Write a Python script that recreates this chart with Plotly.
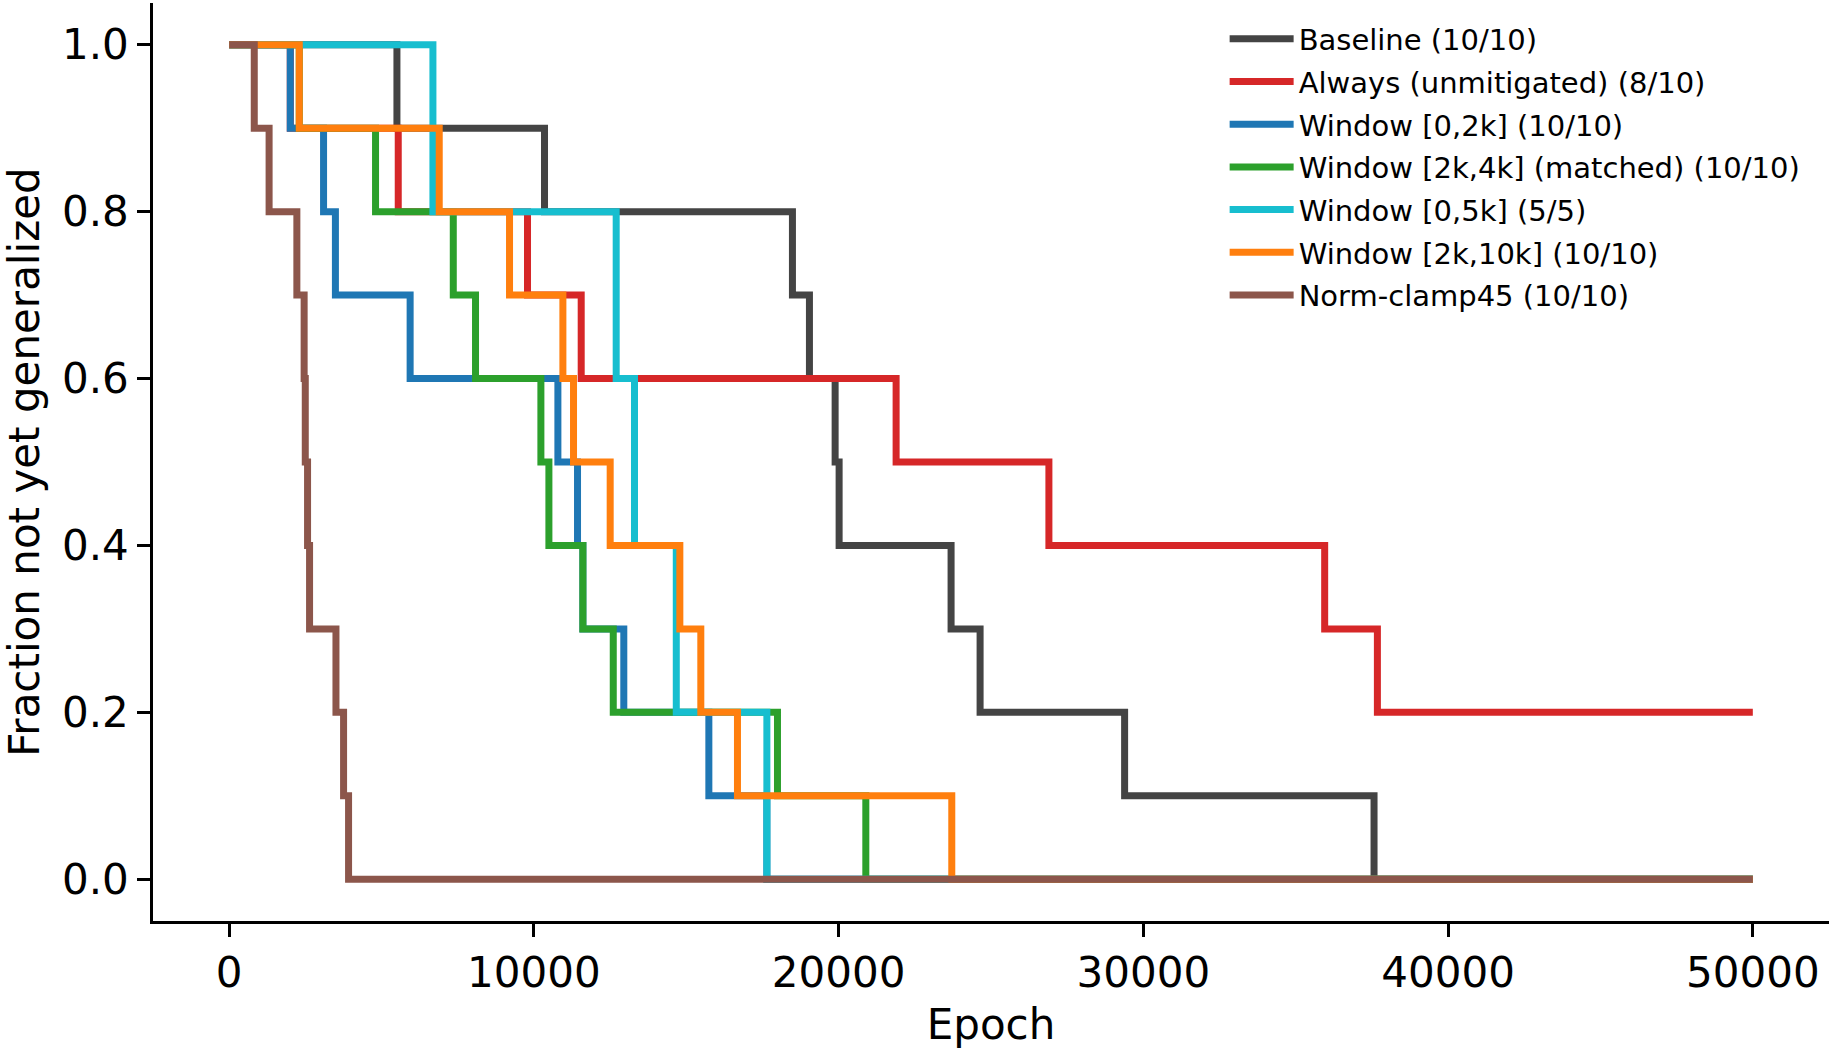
import plotly.graph_objects as go

# ---- data ----
X_END = 50000

baseline_t = [5505, 10348, 18484, 19042, 19885, 20016, 23690, 24642, 29385, 37570]
baseline_y = [0.9, 0.8, 0.7, 0.6, 0.5, 0.4, 0.3, 0.2, 0.1, 0.0]

always_t = [2005, 5548, 9790, 11552, 21886, 26900, 35950, 37680]
always_y = [0.9, 0.8, 0.7, 0.6, 0.5, 0.4, 0.3, 0.2]

w02_t = [2005, 3097, 3486, 5938, 10787, 11431, 11607, 12950, 15741, 17645]
w02_y = [0.9, 0.8, 0.7, 0.6, 0.5, 0.4, 0.3, 0.2, 0.1, 0.0]

w24_t = [2300, 4803, 7354, 8084, 10229, 10492, 11607, 12604, 17993, 20892]
w24_y = [0.9, 0.8, 0.7, 0.6, 0.5, 0.4, 0.3, 0.2, 0.1, 0.0]

w05_t = [6686, 12700, 13301, 14672, 17645]
w05_y = [0.8, 0.6, 0.4, 0.2, 0.0]

w210_t = [2300, 6893, 9200, 10951, 11300, 12503, 14789, 15477, 16680, 23713]
w210_y = [0.9, 0.8, 0.7, 0.6, 0.5, 0.4, 0.3, 0.2, 0.1, 0.0]

clamp_t = [823, 1310, 2221, 2460, 2497, 2572, 2638, 3504, 3754, 3918]
clamp_y = [0.9, 0.8, 0.7, 0.6, 0.5, 0.4, 0.3, 0.2, 0.1, 0.0]

series_names = [
    "Baseline (10/10)",
    "Always (unmitigated) (8/10)",
    "Window [0,2k] (10/10)",
    "Window [2k,4k] (matched) (10/10)",
    "Window [0,5k] (5/5)",
    "Window [2k,10k] (10/10)",
    "Norm-clamp45 (10/10)",
]
series_colors = ["#444444", "#d62728", "#1f77b4", "#2ca02c", "#17becf", "#ff7f0e", "#8c564b"]
series_t = [baseline_t, always_t, w02_t, w24_t, w05_t, w210_t, clamp_t]
series_y = [baseline_y, always_y, w02_y, w24_y, w05_y, w210_y, clamp_y]

x_ticks = [0, 10000, 20000, 30000, 40000, 50000]
y_ticks = [0.0, 0.2, 0.4, 0.6, 0.8, 1.0]

FONT = "DejaVu Sans"

fig = go.Figure()
for i, (name, col, t, yv) in enumerate(zip(series_names, series_colors, series_t, series_y)):
    xs = [0] + list(t) + [X_END]
    ys = [1.0] + list(yv) + [yv[-1]]
    fig.add_trace(go.Scatter(
        x=xs, y=ys, mode="lines", name=name,
        line=dict(color=col, width=7, shape="hv"),
        legendgroup=f"g{i}",
    ))

axis_common = dict(
    showline=True, linecolor="black", linewidth=2.5, mirror=False,
    showgrid=False, zeroline=False,
    ticks="outside", ticklen=13, tickwidth=2.5, tickcolor="black",
    tickfont=dict(family=FONT, size=42, color="black"),
)

fig.update_layout(
    width=1831, height=1049,
    paper_bgcolor="white", plot_bgcolor="white",
    margin=dict(l=153, r=2, t=3, b=128, autoexpand=False),
    font=dict(family=FONT, color="black"),
    xaxis=dict(
        range=[-2500, 52500], tickvals=x_ticks, tickformat="d",
        title=dict(text="Epoch", font=dict(family=FONT, size=42, color="black"), standoff=16),
        **axis_common,
    ),
    yaxis=dict(
        range=[-0.05, 1.05], tickvals=y_ticks, tickformat=".1f",
        automargin=True,
        title=dict(text="Fraction not yet generalized", font=dict(family=FONT, size=42, color="black"), standoff=18),
        **axis_common,
    ),
    legend=dict(
        x=0.6394, y=0.9886, xanchor="left", yanchor="top",
        font=dict(family=FONT, size=29, color="black"),
        bgcolor="rgba(255,255,255,0)", borderwidth=0,
        tracegroupgap=2, itemwidth=64,
    ),
    showlegend=True,
)

fig.write_html("out.html")
